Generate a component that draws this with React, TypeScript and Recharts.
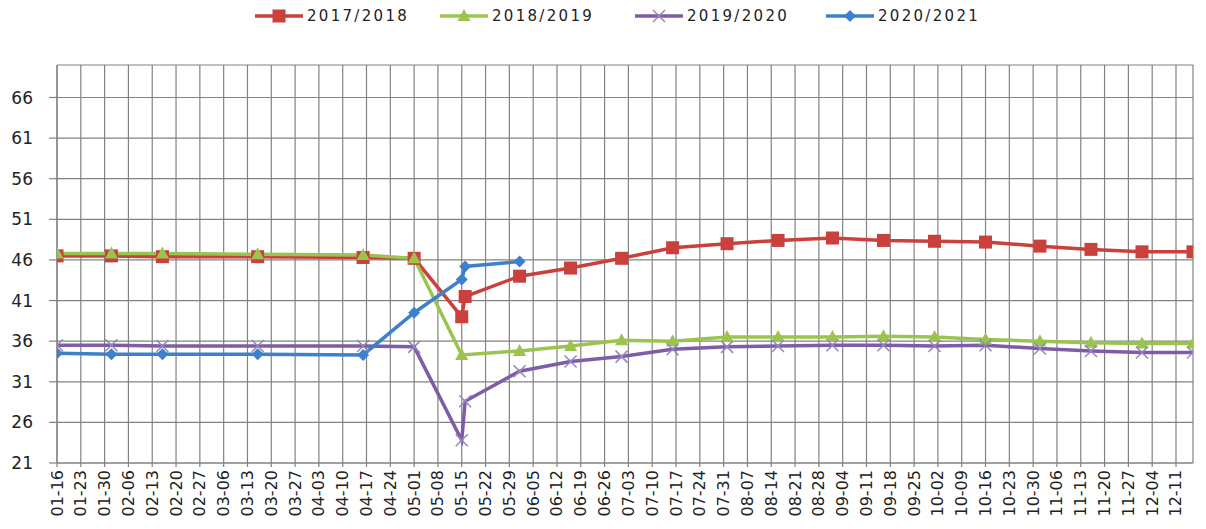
import { CartesianGrid, Line, LineChart, XAxis, YAxis } from "recharts";

// weekly axis labels (MM-DD)
const tickLabels = [
  "01-16", "01-23", "01-30", "02-06", "02-13", "02-20", "02-27", "03-06",
  "03-13", "03-20", "03-27", "04-03", "04-10", "04-17", "04-24", "05-01",
  "05-08", "05-15", "05-22", "05-29", "06-05", "06-12", "06-19", "06-26",
  "07-03", "07-10", "07-17", "07-24", "07-31", "08-07", "08-14", "08-21",
  "08-28", "09-04", "09-11", "09-18", "09-25", "10-02", "10-09", "10-16",
  "10-23", "10-30", "11-06", "11-13", "11-20", "11-27", "12-04", "12-11",
];

// observation dates
const dates = [
  "01-16", "02-01", "02-16", "03-16", "04-16", "05-01", "05-15", "05-16",
  "06-01", "06-16", "07-01", "07-16", "08-01", "08-16", "09-01", "09-16",
  "10-01", "10-16", "11-01", "11-16", "12-01", "12-16",
];

const season1718 = [
  46.5, 46.5, 46.4, 46.4, 46.3, 46.2, 39.0, 41.5, 44.0, 45.0, 46.2, 47.5,
  48.0, 48.4, 48.7, 48.4, 48.3, 48.2, 47.7, 47.3, 47.0, 47.0,
];
const season1819 = [
  46.8, 46.8, 46.8, 46.7, 46.6, 46.2, 34.3, null, 34.8, 35.4, 36.1, 36.0,
  36.5, 36.5, 36.5, 36.6, 36.5, 36.2, 36.0, 35.8, 35.7, 35.7,
];
const season1920 = [
  35.5, 35.5, 35.4, 35.4, 35.4, 35.3, 23.8, 28.6, 32.3, 33.5, 34.1, 35.0,
  35.3, 35.4, 35.5, 35.5, 35.4, 35.5, 35.1, 34.8, 34.6, 34.6,
];
const season2021 = [
  34.5, 34.4, 34.4, 34.4, 34.3, 39.5, 43.6, 45.2, 45.8, null, null, null,
  null, null, null, null, null, null, null, null, null, null,
];

const yTicks = [21, 26, 31, 36, 41, 46, 51, 56, 61, 66];

const monthStart = [0, 31, 59, 90, 120, 151, 181, 212, 243, 273, 304, 334];
function toDay(label: string) {
  const [m, d] = label.split("-").map(Number);
  return monthStart[m - 1] + d;
}

const tickDays = tickLabels.map(toDay);
const dayLabel = new Map(tickLabels.map((l) => [toDay(l), l]));

const data = dates.map((d, i) => ({
  day: toDay(d),
  s1718: season1718[i],
  s1819: season1819[i],
  s1920: season1920[i],
  s2021: season2021[i],
}));

type Shape = "square" | "triangle" | "cross" | "diamond";

const series: { key: string; name: string; color: string; shape: Shape; legendX: number }[] = [
  { key: "s1718", name: "2017/2018", color: "#C9403C", shape: "square", legendX: 255 },
  { key: "s1819", name: "2018/2019", color: "#9BC44E", shape: "triangle", legendX: 440 },
  { key: "s1920", name: "2019/2020", color: "#7E5CA6", shape: "cross", legendX: 635 },
  { key: "s2021", name: "2020/2021", color: "#3D80CC", shape: "diamond", legendX: 826 },
];

function Marker({ cx, cy, shape, color }: { cx: number; cy: number; shape: Shape; color: string }) {
  if (shape === "square") {
    return <rect x={cx - 6.5} y={cy - 6.5} width={13} height={13} fill={color} />;
  }
  if (shape === "triangle") {
    return (
      <polygon
        points={`${cx},${cy - 7} ${cx + 6.5},${cy + 5} ${cx - 6.5},${cy + 5}`}
        fill={color}
      />
    );
  }
  if (shape === "diamond") {
    return (
      <polygon
        points={`${cx},${cy - 6} ${cx + 6},${cy} ${cx},${cy + 6} ${cx - 6},${cy}`}
        fill={color}
      />
    );
  }
  return (
    <g stroke="#9585bf" strokeWidth={1.5}>
      <line x1={cx - 6} y1={cy - 6} x2={cx + 6} y2={cy + 6} />
      <line x1={cx - 6} y1={cy + 6} x2={cx + 6} y2={cy - 6} />
    </g>
  );
}

function makeDot(shape: Shape, color: string) {
  return (props: any) => {
    const { cx, cy, index, value } = props;
    if (cx == null || cy == null || value == null || isNaN(cy)) {
      return <g key={`d-${index}`} />;
    }
    return (
      <g key={`d-${index}`}>
        <Marker cx={cx} cy={cy} shape={shape} color={color} />
      </g>
    );
  };
}

function XTick(props: any) {
  const { x, y, payload } = props;
  return (
    <text
      x={x}
      y={y + 1}
      transform={`rotate(-90 ${x} ${y + 1})`}
      textAnchor="end"
      dominantBaseline="central"
      fontSize={16}
      fontFamily="DejaVu Sans"
      fill="#222"
    >
      {dayLabel.get(payload.value) ?? ""}
    </text>
  );
}

function LegendBar() {
  return (
    <>
      {series.map((s) => (
        <div
          key={s.key}
          style={{
            position: "absolute",
            left: s.legendX,
            top: 6,
            display: "flex",
            alignItems: "center",
            gap: 4,
            fontFamily: "DejaVu Sans",
            fontSize: 15,
            letterSpacing: 2.3,
            color: "#222",
            whiteSpace: "nowrap",
          }}
        >
          <svg width={48} height={20}>
            <line x1={0} y1={10} x2={48} y2={10} stroke={s.color} strokeWidth={3.5} />
            <Marker cx={24} cy={10} shape={s.shape} color={s.color} />
          </svg>
          <span>{s.name}</span>
        </div>
      ))}
    </>
  );
}

export default function App() {
  return (
    <div style={{ position: "relative", width: 1206, height: 529, background: "#fff" }}>
      <style>{"body{margin:0}"}</style>
      <LegendBar />
      <LineChart
        width={1206}
        height={529}
        data={data}
        margin={{ top: 65, right: 13, left: 0, bottom: 0 }}
      >
        <CartesianGrid stroke="#828282" strokeWidth={1.2} />
        <XAxis
          dataKey="day"
          type="number"
          domain={[16, 350]}
          ticks={tickDays}
          interval={0}
          allowDataOverflow
          height={66}
          tickSize={4}
          tickMargin={2}
          axisLine={{ stroke: "#828282", strokeWidth: 1.2 }}
          tickLine={{ stroke: "#828282", strokeWidth: 1.2 }}
          tick={<XTick />}
        />
        <YAxis
          type="number"
          domain={[21, 70]}
          ticks={yTicks}
          interval={0}
          allowDataOverflow
          width={57}
          tickSize={8}
          tickMargin={16}
          axisLine={{ stroke: "#828282", strokeWidth: 1.2 }}
          tickLine={{ stroke: "#828282", strokeWidth: 1.2 }}
          tick={{ fill: "#222", fontSize: 17, fontFamily: "DejaVu Sans" }}
        />
        {series.map((s) => (
          <Line
            key={s.key}
            dataKey={s.key}
            name={s.name}
            type="linear"
            stroke={s.color}
            strokeWidth={3.5}
            connectNulls
            dot={makeDot(s.shape, s.color)}
            activeDot={false}
            isAnimationActive={false}
          />
        ))}
      </LineChart>
    </div>
  );
}
